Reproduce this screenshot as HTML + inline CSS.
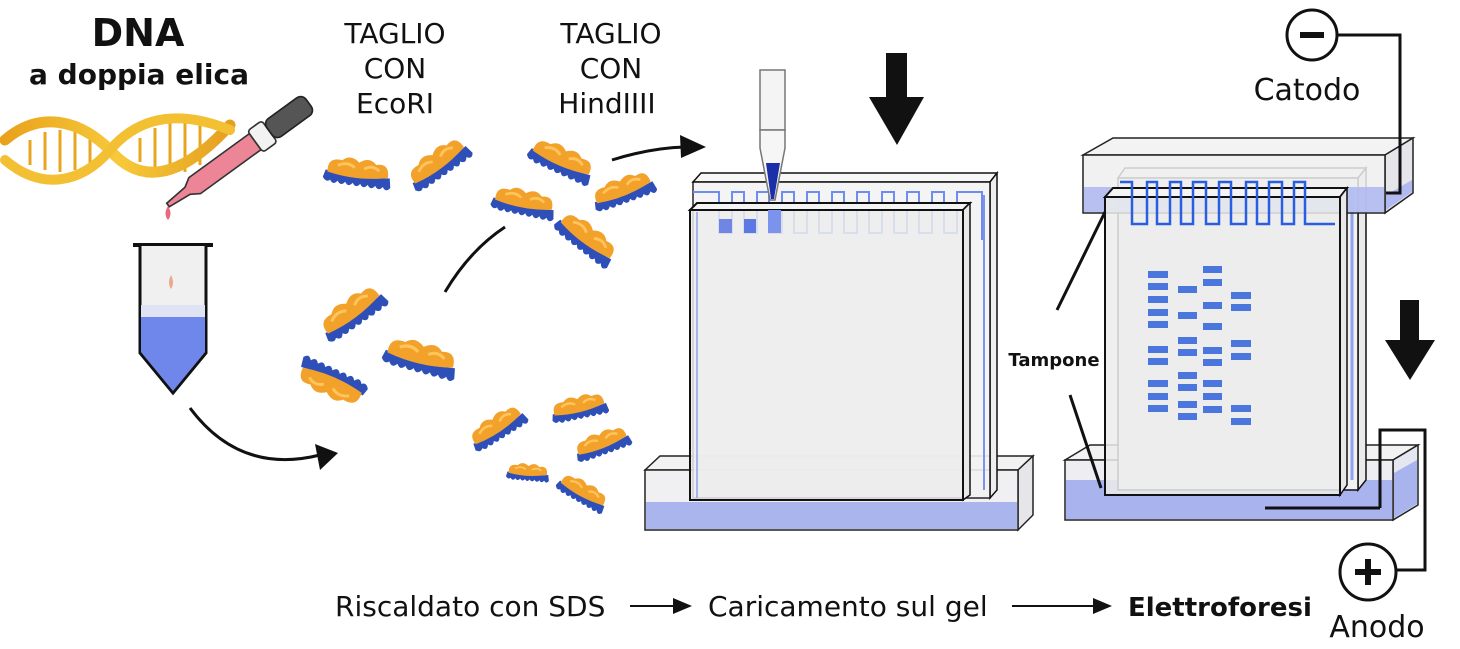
<!DOCTYPE html>
<html><head><meta charset="utf-8"><style>
html,body{margin:0;padding:0;background:#fff;}
svg{display:block;}
text{font-family:"DejaVu Sans","Liberation Sans",sans-serif;fill:#111;}
</style></head><body>
<svg width="1460" height="649" viewBox="0 0 1460 649" xmlns="http://www.w3.org/2000/svg">
<defs>
<g id="frag">
  <path d="M-34,2 Q0,8 34,2 L36,12 Q32,18 28,12 Q24,18 20,12 Q16,18 12,12 Q8,18 4,12 Q0,18 -4,12 Q-8,18 -12,12 Q-16,18 -20,12 Q-24,18 -28,12 Q-32,16 -36,10 Z" fill="#2f4fb8"/>
  <path d="M-32,4 Q-34,-12 -18,-10 Q-10,-18 0,-10 Q10,-18 18,-10 Q32,-14 32,2 Q0,10 -32,4 Z" fill="#f2a12a"/>
  <path d="M-22,-4 Q-12,-10 -4,-4 M6,-4 Q14,-10 22,-4" stroke="#ffc45a" stroke-width="3" fill="none"/>
</g>
<linearGradient id="gold" x1="0" y1="0" x2="1" y2="0"><stop offset="0" stop-color="#e9a21b"/><stop offset="0.5" stop-color="#f7c93a"/><stop offset="1" stop-color="#e5a020"/></linearGradient>
</defs>

<!-- Titles -->
<text x="138" y="46" font-size="38" font-weight="bold" text-anchor="middle">DNA</text>
<text x="139" y="84" font-size="28" font-weight="bold" text-anchor="middle">a doppia elica</text>
<text x="395" y="43" font-size="28" text-anchor="middle">TAGLIO</text>
<text x="395" y="78" font-size="28" text-anchor="middle">CON</text>
<text x="395" y="113" font-size="28" text-anchor="middle">EcoRI</text>
<text x="611" y="43" font-size="28" text-anchor="middle">TAGLIO</text>
<text x="611" y="78" font-size="28" text-anchor="middle">CON</text>
<text x="607" y="113" font-size="28" text-anchor="middle">HindIIII</text>

<!-- DNA helix -->
<g stroke="#e8a51f" stroke-width="3">
  <line x1="30" y1="140" x2="30" y2="165"/><line x1="45" y1="132" x2="45" y2="170"/><line x1="60" y1="130" x2="60" y2="172"/>
  <line x1="75" y1="132" x2="75" y2="170"/><line x1="90" y1="138" x2="90" y2="165"/>
  <line x1="140" y1="138" x2="140" y2="162"/><line x1="155" y1="128" x2="155" y2="168"/><line x1="170" y1="122" x2="170" y2="172"/>
  <line x1="185" y1="120" x2="185" y2="172"/><line x1="200" y1="125" x2="200" y2="165"/>
</g>
<path d="M5,140 C40,110 80,120 110,150 C140,185 180,180 230,125" stroke="url(#gold)" stroke-width="11" fill="none" stroke-linecap="round"/>
<path d="M5,160 C40,190 80,185 110,150 C140,115 180,110 230,130" stroke="#f4c033" stroke-width="10" fill="none" stroke-linecap="round"/>

<!-- dropper -->
<g transform="translate(168,205) rotate(-36) scale(1.1)">
  <path d="M0,-2 L22,-4 L30,-9 L98,-9 L98,9 L30,9 L22,4 L0,2 Z" fill="#ec8595" stroke="#333" stroke-width="1.5"/>
  <rect x="98" y="-12" width="16" height="24" rx="3" fill="#f2f2f2" stroke="#333" stroke-width="1.5"/>
  <rect x="114" y="-10" width="44" height="20" rx="6" fill="#555" stroke="#222" stroke-width="1.5"/>
</g>
<path d="M168,206 Q173,214 168,220 Q163,214 168,206 Z" fill="#e96a7a"/>

<!-- tube -->
<line x1="133" y1="245" x2="213" y2="245" stroke="#111" stroke-width="4"/>
<path d="M140,246 L140,353 L173,393 L206,353 L206,246" fill="#f0f0f0" stroke="#111" stroke-width="3"/>
<rect x="141" y="305" width="64" height="12" fill="#dfe3f4"/>
<path d="M141,317 L205,317 L205,352 L173,391 L141,352 Z" fill="#6f86ea"/>
<path d="M171,275 Q175,283 171,289 Q167,283 171,275 Z" fill="#eca78f"/>

<!-- arrows left -->
<path d="M190,408 Q240,475 320,455" stroke="#111" stroke-width="3" fill="none"/>
<path d="M315,444 L338,453 L320,470 Z" fill="#111"/>
<path d="M445,292 Q470,250 505,227" stroke="#111" stroke-width="3" fill="none"/>
<path d="M612,160 Q650,148 685,147" stroke="#111" stroke-width="3" fill="none"/>
<path d="M680,135 L706,147 L681,158 Z" fill="#111"/>

<!-- fragments -->
<use href="#frag" transform="translate(358,172) rotate(8) scale(0.95)"/>
<use href="#frag" transform="translate(438,163) rotate(-35) scale(0.95)"/>
<use href="#frag" transform="translate(562,160) rotate(25) scale(0.95)"/>
<use href="#frag" transform="translate(623,190) rotate(-20) scale(0.9)"/>
<use href="#frag" transform="translate(524,202) rotate(12) scale(0.9)"/>
<use href="#frag" transform="translate(587,238) rotate(38) scale(0.95)"/>
<use href="#frag" transform="translate(352,312) rotate(-35) scale(1)"/>
<use href="#frag" transform="translate(421,357) rotate(15) scale(1.05)"/>
<use href="#frag" transform="translate(331,383) rotate(205) scale(1)"/>
<use href="#frag" transform="translate(497,427) rotate(-32) scale(0.85)"/>
<use href="#frag" transform="translate(579,407) rotate(-12) scale(0.8)"/>
<use href="#frag" transform="translate(602,443) rotate(-20) scale(0.8)"/>
<use href="#frag" transform="translate(528,472) rotate(5) scale(0.6)"/>
<use href="#frag" transform="translate(583,492) rotate(30) scale(0.75)"/>

<!-- middle gel apparatus -->
<path d="M645,470 L660,456 L1033,456 L1018,470 Z" fill="#f2f2f2" stroke="#222" stroke-width="1.5"/>
<path d="M1018,470 L1033,456 L1033,515 L1018,530 Z" fill="#e6e6ea" stroke="#222" stroke-width="1.5"/>
<rect x="645" y="470" width="373" height="60" fill="#f0f0f2" stroke="#222" stroke-width="1.5"/>
<rect x="646" y="502" width="371" height="27" fill="#aab5ee"/>
<path d="M693,182 L701,173 L997,173 L990,182 Z" fill="#f7f7f7" stroke="#111" stroke-width="1.5"/>
<path d="M990,182 L997,173 L997,490 L990,498 Z" fill="#eeeeee" stroke="#111" stroke-width="1.5"/>
<rect x="693" y="182" width="297" height="316" fill="#f3f3f3" stroke="#111" stroke-width="1.5" opacity="0.9"/>
<line x1="984" y1="195" x2="984" y2="490" stroke="#7c93ea" stroke-width="2"/>
<path d="M693,192 H719 V233 H732 V192 H744 V233 H757 V192 H769 V233 H782 V192 H794 V233 H807 V192 H819 V233 H832 V192 H844 V233 H857 V192 H869 V233 H882 V192 H894 V233 H907 V192 H919 V233 H932 V192 H944 V233 H957 V192 H982 V240" fill="none" stroke="#6f8cf0" stroke-width="2"/>
<path d="M690,210 L697,203 L970,203 L963,210 Z" fill="#f4f4f4" stroke="#111" stroke-width="2"/>
<path d="M963,210 L970,203 L970,495 L963,500 Z" fill="#e8e8e8" stroke="#111" stroke-width="1.5"/>
<rect x="690" y="210" width="273" height="290" fill="#ececec" fill-opacity="0.85" stroke="#111" stroke-width="2"/>
<line x1="697" y1="212" x2="697" y2="498" stroke="#8aa0ee" stroke-width="1.5"/>
<rect x="719" y="219" width="13" height="14" fill="#6f86e4"/>
<rect x="744" y="219" width="12" height="14" fill="#5d78e2"/>
<rect x="768" y="210" width="13" height="23" fill="#7b93ea"/>
<rect x="760" y="70" width="25" height="60" fill="#f4f4f4" stroke="#777" stroke-width="1.5"/>
<path d="M760,130 L785,130 L785,148 L775,200 L770,200 L760,148 Z" fill="#f6f6f6" stroke="#777" stroke-width="1.5"/>
<path d="M766,163 L780,163 L774,199 L771,199 Z" fill="#1b2fa8"/>
<path d="M886,53 H907 V97 H924 L897,145 L869,97 H886 Z" fill="#111"/>

<!-- right apparatus -->
<path d="M1065,460 L1090,445 L1418,445 L1393,460 Z" fill="#f2f2f2" stroke="#222" stroke-width="1.5"/>
<path d="M1393,460 L1418,445 L1418,505 L1393,520 Z" fill="#e4e6f0" stroke="#222" stroke-width="1.5"/>
<rect x="1065" y="460" width="328" height="60" fill="#eeeef2" stroke="#222" stroke-width="1.5"/>
<rect x="1066" y="480" width="326" height="39" fill="#a9b4ee"/>
<path d="M1394,473 L1417,460 L1417,504 L1394,518 Z" fill="#a9b4ee"/>
<path d="M1118,178 L1125,168 L1366,168 L1358,178 Z" fill="#f5f5f5" stroke="#111" stroke-width="1.5"/>
<path d="M1358,178 L1366,168 L1366,480 L1358,490 Z" fill="#eaeaea" stroke="#111" stroke-width="1.5"/>
<rect x="1118" y="178" width="240" height="312" fill="#f1f1f1" stroke="#111" stroke-width="1.5"/>
<line x1="1352" y1="190" x2="1352" y2="480" stroke="#8ea2ee" stroke-width="3"/>
<path d="M1083,155 L1113,138 L1413,138 L1385,155 Z" fill="#f3f3f3" stroke="#222" stroke-width="1.5"/>
<path d="M1385,155 L1413,138 L1413,193 L1385,213 Z" fill="#e6e6ea" stroke="#222" stroke-width="1.5"/>
<rect x="1083" y="155" width="302" height="58" fill="#eeeeee" fill-opacity="0.85" stroke="#222" stroke-width="1.5"/>
<rect x="1084" y="187" width="300" height="25" fill="#b0baf0" opacity="0.9"/>
<path d="M1386,195 L1412,180 L1412,192 L1386,210 Z" fill="#b0baf0"/>
<path d="M1105,197 L1113,188 L1347,188 L1340,197 Z" fill="#f4f4f4" stroke="#111" stroke-width="2"/>
<path d="M1340,197 L1347,188 L1347,485 L1340,495 Z" fill="#e8e8e8" stroke="#111" stroke-width="1.5"/>
<rect x="1105" y="197" width="235" height="298" fill="#ececec" fill-opacity="0.85" stroke="#111" stroke-width="2"/>
<path d="M1120,182 H1132 V224 H1147 V182 H1157 V224 H1170 V182 H1181 V224 H1193 V182 H1206 V224 H1219 V182 H1231 V224 H1246 V182 H1257 V224 H1269 V182 H1282 V224 H1294 V182 H1305 V224 H1335" fill="none" stroke="#2a5ee0" stroke-width="2.5"/>
<g fill="#4a76de">
<rect x="1148" y="271" width="20" height="7"/><rect x="1148" y="283" width="20" height="7"/><rect x="1148" y="296" width="20" height="7"/><rect x="1148" y="309" width="20" height="7"/><rect x="1148" y="321" width="20" height="7"/><rect x="1148" y="346" width="20" height="7"/><rect x="1148" y="358" width="20" height="7"/><rect x="1148" y="380" width="20" height="7"/><rect x="1148" y="393" width="20" height="7"/><rect x="1148" y="405" width="20" height="7"/>
<rect x="1178" y="286" width="19" height="7"/><rect x="1178" y="312" width="19" height="7"/><rect x="1178" y="337" width="19" height="7"/><rect x="1178" y="349" width="19" height="7"/><rect x="1178" y="372" width="19" height="7"/><rect x="1178" y="384" width="19" height="7"/><rect x="1178" y="401" width="19" height="7"/><rect x="1178" y="413" width="19" height="7"/>
<rect x="1203" y="266" width="19" height="7"/><rect x="1203" y="279" width="19" height="7"/><rect x="1203" y="302" width="19" height="7"/><rect x="1203" y="323" width="19" height="7"/><rect x="1203" y="347" width="19" height="7"/><rect x="1203" y="359" width="19" height="7"/><rect x="1203" y="380" width="19" height="7"/><rect x="1203" y="393" width="19" height="7"/><rect x="1203" y="406" width="19" height="7"/>
<rect x="1231" y="292" width="20" height="7"/><rect x="1231" y="304" width="20" height="7"/><rect x="1231" y="340" width="20" height="7"/><rect x="1231" y="353" width="20" height="7"/><rect x="1231" y="405" width="20" height="7"/><rect x="1231" y="418" width="20" height="7"/>
</g>
<line x1="1057" y1="310" x2="1105" y2="212" stroke="#111" stroke-width="3"/>
<line x1="1070" y1="395" x2="1101" y2="488" stroke="#111" stroke-width="3"/>
<text x="1054" y="366" font-size="18" font-weight="bold" text-anchor="middle">Tampone</text>
<path d="M1400,300 H1419 V340 H1435 L1410,380 L1385,340 H1400 Z" fill="#111"/>
<circle cx="1312" cy="35" r="25" fill="#fff" stroke="#111" stroke-width="3"/>
<rect x="1300" y="32" width="24" height="6" fill="#111"/>
<path d="M1337,35 H1400 V193 H1386" fill="none" stroke="#111" stroke-width="3"/>
<text x="1307" y="100" font-size="30" text-anchor="middle">Catodo</text>
<path d="M1380,508 V430 H1425 V570 H1396" fill="none" stroke="#111" stroke-width="3"/>
<line x1="1265" y1="508" x2="1380" y2="508" stroke="#111" stroke-width="3"/>
<circle cx="1368" cy="572" r="28" fill="#fff" stroke="#111" stroke-width="3"/>
<rect x="1355" y="569" width="26" height="6" fill="#111"/>
<rect x="1365" y="559" width="6" height="26" fill="#111"/>
<text x="1377" y="637" font-size="30" text-anchor="middle">Anodo</text>

<!-- bottom labels -->
<text x="335" y="616" font-size="28">Riscaldato con SDS</text>
<line x1="630" y1="606" x2="675" y2="606" stroke="#111" stroke-width="2"/>
<path d="M673,598 L692,606 L673,614 Z" fill="#111"/>
<text x="708" y="616" font-size="28">Caricamento sul gel</text>
<line x1="1012" y1="606" x2="1095" y2="606" stroke="#111" stroke-width="2"/>
<path d="M1093,598 L1112,606 L1093,614 Z" fill="#111"/>
<text x="1128" y="616" font-size="26" font-weight="bold">Elettroforesi</text>
</svg>
</body></html>
